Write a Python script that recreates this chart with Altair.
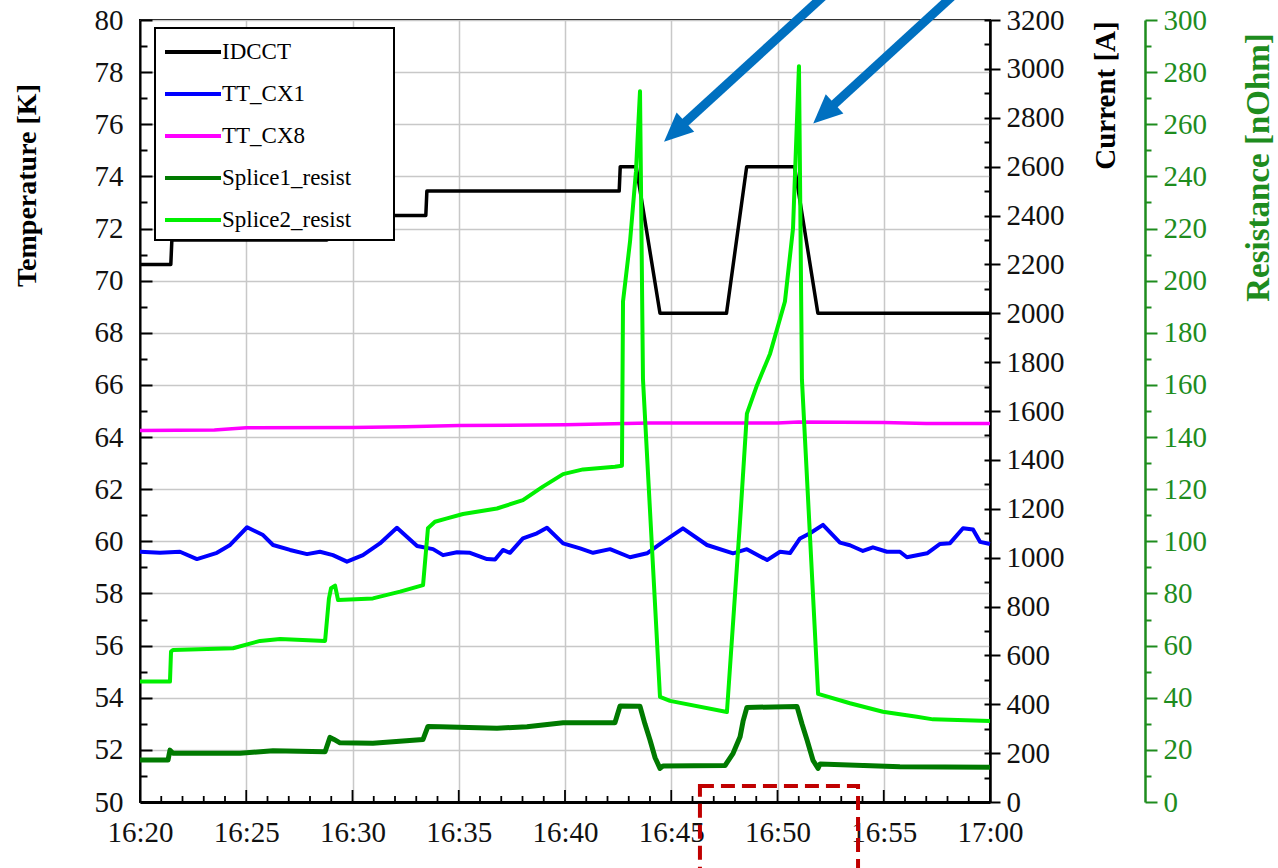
import altair as alt
import pandas as pd

SERIF = "Liberation Serif"
GREEN = "#1E8C1E"

SERIES = ["IDCCT", "TT_CX1", "TT_CX8", "Splice1_resist", "Splice2_resist"]
COLORS = ["#000000", "#0000FF", "#FF00FF", "#007A00", "#00F000"]

# time axis: minutes after 16:20
IDCCT_T = [0, 1.45, 1.5, 8.8, 8.85, 13.45, 13.5, 22.55, 22.6, 23.35, 24.47, 27.6, 28.55, 30.8, 31.9, 40]
IDCCT_A = [2200, 2200, 2300, 2300, 2400, 2400, 2500, 2500, 2600, 2600, 2000, 2000, 2600, 2600, 2000, 2000]

CX8_T = [0, 3.5, 5, 10, 12.5, 15, 20, 24, 30, 31, 35, 37, 40]
CX8_K = [64.25, 64.27, 64.36, 64.37, 64.40, 64.44, 64.47, 64.54, 64.54, 64.58, 64.56, 64.52, 64.52]

CX1_T = [0, 0.94, 1.88, 2.68, 3.62, 4.24, 5.04, 5.79, 6.26, 7.06, 7.86, 8.47, 9.08, 9.74, 10.49,
         11.29, 12.09, 13.04, 13.79, 14.26, 14.92, 15.53, 16.33, 16.71, 17.08, 17.41, 18.02, 18.68,
         19.15, 19.91, 20.71, 21.32, 22.12, 23.06, 23.86, 24.61, 25.55, 26.68, 27.91, 28.56, 29.51,
         30.12, 30.59, 31.06, 31.53, 32.14, 32.94, 33.41, 34.02, 34.49, 35.15, 35.76, 36.09, 37.04,
         37.65, 38.12, 38.73, 39.20, 39.53, 40]
CX1_K = [59.60, 59.56, 59.60, 59.32, 59.56, 59.86, 60.54, 60.24, 59.86, 59.67, 59.51, 59.60, 59.47,
         59.22, 59.47, 59.92, 60.52, 59.82, 59.70, 59.47, 59.58, 59.56, 59.32, 59.30, 59.67, 59.56,
         60.11, 60.31, 60.52, 59.92, 59.73, 59.56, 59.70, 59.39, 59.54, 59.98, 60.50, 59.86, 59.54,
         59.70, 59.28, 59.60, 59.55, 60.11, 60.31, 60.63, 59.95, 59.85, 59.63, 59.77, 59.60, 59.60,
         59.39, 59.54, 59.90, 59.93, 60.50, 60.45, 59.98, 59.90]

S1_T = [0, 1.32, 1.41, 1.55, 4.71, 6.26, 8.71, 8.94, 9.13, 9.41, 10.96, 13.32, 13.55, 14.12, 16.8,
        18.21, 19.91, 22.35, 22.59, 23.53, 23.76, 24.0, 24.24, 24.47, 24.61, 27.53, 27.91, 28.24,
        28.38, 28.56, 30.92, 31.15, 31.39, 31.67, 31.91, 32.0, 35.76, 40]
S1_R = [16.1, 16.1, 19.9, 18.7, 18.7, 19.7, 19.3, 24.8, 24.0, 22.7, 22.5, 24.0, 29.0, 28.9, 28.3,
        28.9, 30.4, 30.4, 36.8, 36.7, 30.0, 23.8, 17.0, 12.9, 13.8, 14.0, 18.7, 25.0,
        31.0, 36.3, 36.6, 30.0, 23.8, 16.0, 12.9, 14.6, 13.5, 13.3]

S2_T = [0, 1.41, 1.46, 1.55, 4.38, 5.65, 6.59, 8.71, 8.89, 8.99, 9.18, 9.32, 10.96, 12.24, 13.32,
        13.55, 13.88, 14.45, 15.2, 16.8, 18.02, 18.96, 19.91, 20.85, 22.35, 22.68, 22.73, 23.06,
        23.34, 23.53, 23.67, 24.47, 24.94, 27.62, 28.24, 28.56, 29.04, 29.65, 30.35, 30.73, 31.01,
        31.15, 31.91, 33.41, 34.96, 36.56, 37.32, 40]
S2_R = [46.2, 46.2, 57.7, 58.3, 59.0, 61.8, 62.5, 61.8, 78.0, 82.0, 83.0, 77.5, 78.1, 80.7, 83.2,
        105.0, 107.5, 108.8, 110.5, 112.6, 115.8, 121.0, 125.8, 127.6, 128.6, 129.0, 192.0, 215.0,
        242.0, 272.7, 162.0, 40.3, 38.8, 34.5, 108.0, 149.0, 160.0, 172.0, 192.0, 220.0, 282.3,
        162.0, 41.5, 37.9, 34.6, 32.7, 31.7, 31.1]

# annotations (time, resistance units)
ARROW_TAIL_T = [32.98, 39.05]
ARROW_TAIL_R = [315.3, 315.3]
ARROW_TIP_T = [24.66, 31.68]
ARROW_TIP_R = [253.3, 260.3]
BOX_T = [26.35, 33.79]
BOX_R = [6.1, -40.0]

X_MAJOR = list(range(0, 41, 5))
X_MINOR = list(range(0, 41, 1))
T_MAJOR = list(range(50, 81, 2))
T_MINOR = list(range(51, 80, 2))
A_MAJOR = list(range(0, 3201, 200))
A_MINOR = list(range(0, 3201, 100))
R_MAJOR = list(range(0, 301, 20))
R_MINOR = list(range(10, 300, 20))

W, H = 850, 782
LBL = 29
T_LO, T_HI = 50, 80

XS = alt.Scale(domain=[0, 40], nice=False, zero=False)
TS = alt.Scale(domain=[T_LO, T_HI], nice=False, zero=False)
AS = alt.Scale(domain=[0, 3200], nice=False, zero=False)
RS = alt.Scale(domain=[0, 300], nice=False, zero=False)
CS = alt.Scale(domain=SERIES, range=COLORS)

PADCH = "\u2800" * 2
LEG = alt.Legend(title=None, orient="none", legendX=15, legendY=8,
                 symbolType="M-1,0L3,0", symbolSize=784, symbolStrokeWidth=4,
                 labelFont=SERIF, labelFontSize=23, labelColor="black", labelOffset=27,
                 labelExpr="datum.label + '" + PADCH + "'",
                 labelLimit=400, rowPadding=14, padding=8,
                 strokeColor="black", fillColor="white", cornerRadius=0)

XLAB = ("(16 + floor((datum.value + 20) / 60)) + ':' + "
        "(((datum.value + 20) % 60) < 10 ? '0' : '') + ((datum.value + 20) % 60)")

AX_X = alt.Axis(orient="bottom", values=X_MAJOR, labelExpr=XLAB, grid=True, gridColor="#c8c8c8",
                gridWidth=1.5, ticks=False, domain=True, domainColor="black", domainWidth=3,
                labelFont=SERIF, labelFontSize=LBL, labelColor="#111111", labelPadding=16,
                labelFlush=False, labelOverlap=False, title=None)

AX_T = alt.Axis(orient="left", values=T_MAJOR, grid=True, gridColor="#c8c8c8", gridWidth=1.5,
                ticks=False, domainColor="black", domainWidth=2, labelFont=SERIF, labelFontSize=LBL,
                labelColor="#111111", labelPadding=17, labelOverlap=False,
                title="Temperature [K]", titleFont=SERIF, titleFontSize=28, titleFontWeight="bold",
                titleColor="black", titleAngle=270, titleX=-113, titleY=165,
                titleAlign="center", titleBaseline="middle")
AX_T_MAJ = alt.Axis(orient="right", offset=-W, values=T_MAJOR, ticks=True, tickSize=12, tickWidth=2,
                    tickColor="black", labels=False, domain=False, grid=False, title=None)
AX_T_MIN = alt.Axis(orient="right", offset=-W, values=T_MINOR, ticks=True, tickSize=7, tickWidth=2,
                    tickColor="black", labels=False, domain=False, grid=False, title=None)

AX_A = alt.Axis(orient="right", values=A_MAJOR, format="d", ticks=True, tickSize=10, tickWidth=2,
                tickColor="black", domainColor="black", domainWidth=2.5, labelFont=SERIF,
                labelFontSize=LBL, labelColor="#111111", labelPadding=6, labelOverlap=False, grid=False,
                title="Current [A]", titleFont=SERIF, titleFontSize=29, titleFontWeight="bold",
                titleColor="black", titleAngle=270, titleX=115, titleY=75,
                titleAlign="center", titleBaseline="middle")
AX_A_IN = alt.Axis(orient="left", offset=-W, values=A_MINOR, ticks=True, tickSize=6, tickWidth=2,
                   tickColor="black", labels=False, domain=False, grid=False, title=None)

AX_R = alt.Axis(orient="right", offset=155, values=R_MAJOR, ticks=True, tickSize=12, tickWidth=2,
                tickColor=GREEN, domainColor=GREEN, domainWidth=2.5, labelFont=SERIF,
                labelFontSize=LBL, labelColor=GREEN, labelPadding=6, labelOverlap=False, grid=False,
                title="Resistance [nOhm]", titleFont=SERIF, titleFontSize=33, titleFontWeight="bold",
                titleColor=GREEN, titleAngle=270, titleX=113, titleY=147,
                titleAlign="center", titleBaseline="middle")
AX_R_MIN = alt.Axis(orient="right", offset=155, values=R_MINOR, ticks=True, tickSize=6, tickWidth=2,
                    tickColor=GREEN, labels=False, domain=False, grid=False, title=None)


def frame(name, ts, vs):
    return pd.DataFrame({"t": ts, "v": vs, "series": [name] * len(ts)})


def line(df, width, yscale, yaxis, xaxis=None):
    return alt.Chart(df).mark_line(strokeWidth=width, strokeJoin="round").encode(
        x=alt.X("t:Q", scale=XS, axis=xaxis),
        y=alt.Y("v:Q", scale=yscale, axis=yaxis),
        color=alt.Color("series:N", scale=CS, legend=LEG),
    )


def ticks(df, yscale, yaxis, xaxis=None):
    return alt.Chart(df).mark_point(opacity=0).encode(
        x=alt.X("t:Q", scale=XS, axis=xaxis),
        y=alt.Y("v:Q", scale=yscale, axis=yaxis),
    )


cx1 = frame("TT_CX1", CX1_T, CX1_K)
cx8 = frame("TT_CX8", CX8_T, CX8_K)
idc = frame("IDCCT", IDCCT_T, IDCCT_A)
s1 = frame("Splice1_resist", S1_T, S1_R)
s2 = frame("Splice2_resist", S2_T, S2_R)

# inward x-axis ticks (length converted from pixels to scale units)
PX_PER_K = H / (T_HI - T_LO)
xt = pd.DataFrame({
    "t": X_MINOR,
    "y0": [T_LO] * len(X_MINOR),
    "y1": [T_LO + (12 if m in X_MAJOR else 6) / PX_PER_K for m in X_MINOR],
    "w": [2 if m in X_MAJOR else 1.5 for m in X_MINOR],
})
x_ticks = alt.Chart(xt).mark_rule(color="black", strokeWidth=1.8).encode(
    x=alt.X("t:Q", scale=XS, axis=None),
    y=alt.Y("y0:Q", scale=TS, axis=None), y2="y1:Q")

temp_group = alt.layer(
    line(cx1, 4, TS, AX_T, AX_X),
    line(cx8, 3.5, TS, None),
    ticks(cx8, TS, AX_T_MAJ),
    ticks(cx8, TS, AX_T_MIN),
    x_ticks,
).resolve_axis(x="independent", y="independent")

cur_group = alt.layer(
    line(idc, 3.5, AS, AX_A),
    ticks(idc, AS, AX_A_IN),
).resolve_axis(x="independent", y="independent")

FRAC = 0.07
arrows = pd.DataFrame({
    "t": ARROW_TAIL_T,
    "v": ARROW_TAIL_R,
    "t2": [p + FRAC * (q - p) for p, q in zip(ARROW_TIP_T, ARROW_TAIL_T)],
    "v2": [p + FRAC * (q - p) for p, q in zip(ARROW_TIP_R, ARROW_TAIL_R)],
    "tt": ARROW_TIP_T,
    "tv": ARROW_TIP_R,
})
box = pd.DataFrame({"t": [BOX_T[0]], "t2": [BOX_T[1]], "v": [BOX_R[0]], "v2": [BOX_R[1]]})

arrow_lines = alt.Chart(arrows).mark_rule(strokeWidth=9, color="#0070C0", strokeCap="butt").encode(
    x=alt.X("t:Q", scale=XS, axis=None), x2="t2:Q",
    y=alt.Y("v:Q", scale=RS, axis=None), y2="v2:Q")
arrow_heads = alt.Chart(arrows).mark_point(
    shape="M0,0L0.9,2L-0.9,2Z", size=841, angle=227.5, filled=True,
    color="#0070C0", opacity=1, strokeWidth=0).encode(
    x=alt.X("tt:Q", scale=XS, axis=None),
    y=alt.Y("tv:Q", scale=RS, axis=None))
red_box = alt.Chart(box).mark_rect(fillOpacity=0, stroke="#C00000", strokeWidth=4,
                                   strokeDash=[14, 7]).encode(
    x=alt.X("t:Q", scale=XS, axis=None), x2="t2:Q",
    y=alt.Y("v:Q", scale=RS, axis=None), y2="v2:Q")

res_group = alt.layer(
    line(s1, 5, RS, AX_R),
    line(s2, 4, RS, None),
    ticks(s1, RS, AX_R_MIN),
    arrow_lines,
    arrow_heads,
    red_box,
).resolve_axis(x="independent", y="independent")

chart = alt.layer(temp_group, cur_group, res_group).resolve_scale(
    y="independent").resolve_axis(x="independent", y="independent").properties(
    width=W, height=H,
    padding={"left": 140, "top": 20, "right": 288, "bottom": 66},
    autosize=alt.AutoSizeParams(type="none"),
    background="white",
).configure_view(stroke="black", strokeWidth=2).configure_legend(strokeWidth=2)

chart.save("out.html", embed_options={"renderer": "svg", "actions": False})
